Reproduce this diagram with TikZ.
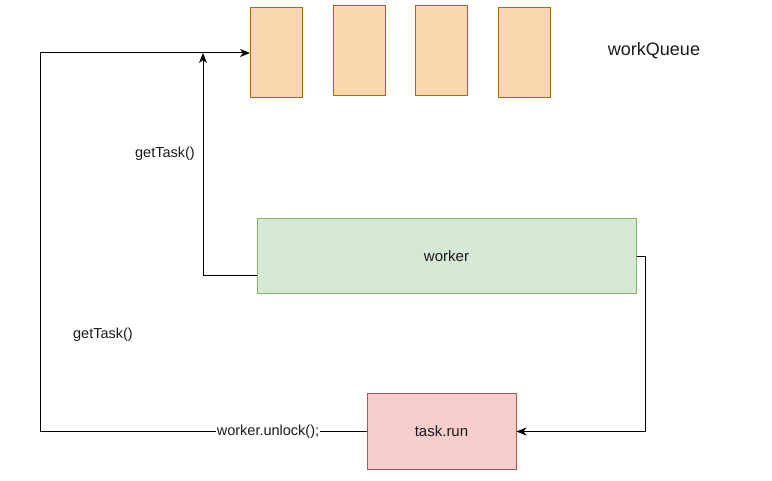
\documentclass[tikz,border=0pt]{standalone}
\usepackage{fontspec}
\setmainfont{Liberation Sans}
\usetikzlibrary{arrows.meta}
\definecolor{qfill}{HTML}{FAD7AC}
\definecolor{qdraw}{HTML}{B46504}
\definecolor{wfill}{HTML}{D5E8D4}
\definecolor{wdraw}{HTML}{82B366}
\definecolor{tfill}{HTML}{F8CECC}
\definecolor{tdraw}{HTML}{B85450}
\definecolor{txt}{HTML}{1A1A1A}
\tikzset{
  qbox/.style={draw=qdraw, fill=qfill, line width=1pt, minimum width=52pt, minimum height=90pt, inner sep=0pt},
  wbox/.style={draw=wdraw, fill=wfill, line width=1pt, minimum width=379pt, minimum height=75pt, text=txt, font=\fontsize{15}{18}\selectfont},
  tbox/.style={draw=tdraw, fill=tfill, line width=1pt, minimum width=149pt, minimum height=75pt, text=txt, font=\fontsize{15}{18}\selectfont},
  link/.style={draw=black, line width=1pt, -{Stealth[length=10pt,width=8pt,inset=3pt]}},
  plain/.style={draw=black, line width=1pt},
  lab/.style={text=txt, font=\fontsize{14.5}{17}\selectfont, inner sep=1pt},
}
\begin{document}
\begin{tikzpicture}[x=1pt,y=-1pt]
  \useasboundingbox (0,0) rectangle (772,481);
  % queue
  \node[qbox] (q1) at (276.5,53) {};
  \node[qbox] (q2) at (359,51) {};
  \node[qbox] (q3) at (441,51) {};
  \node[qbox] (q4) at (524,53) {};
  \node[text=txt, font=\fontsize{18}{21}\selectfont] (wq) at (654,51) {workQueue};
  % boxes
  \node[wbox] (worker) at (446.5,256.5) {worker};
  \node[tbox] (task) at (441.5,431.5) {task.run};
  % worker -> queue
  \coordinate (wl) at (203,276);
  \coordinate (wt) at (203,53);
  \draw[link] (worker.west |- wl) -- (wl) -- (wt);
  \node[lab] (gt1) at (165,154) {getTask()};
  % task -> queue
  \coordinate (bl) at (40,431.5);
  \coordinate (tl) at (40,53);
  \draw[link] (task.west) -- (bl) -- (tl) -- (q1.west);
  \node[lab, fill=white] (ul) at (268,431.5) {worker.unlock();};
  \node[lab] (gt2) at (103,335) {getTask()};
  % worker -> task
  \coordinate (wr) at (645,257);
  \draw[link] (worker.east |- wr) -- (wr) -- (wr |- task.east) -- (task.east);
\end{tikzpicture}
\end{document}
